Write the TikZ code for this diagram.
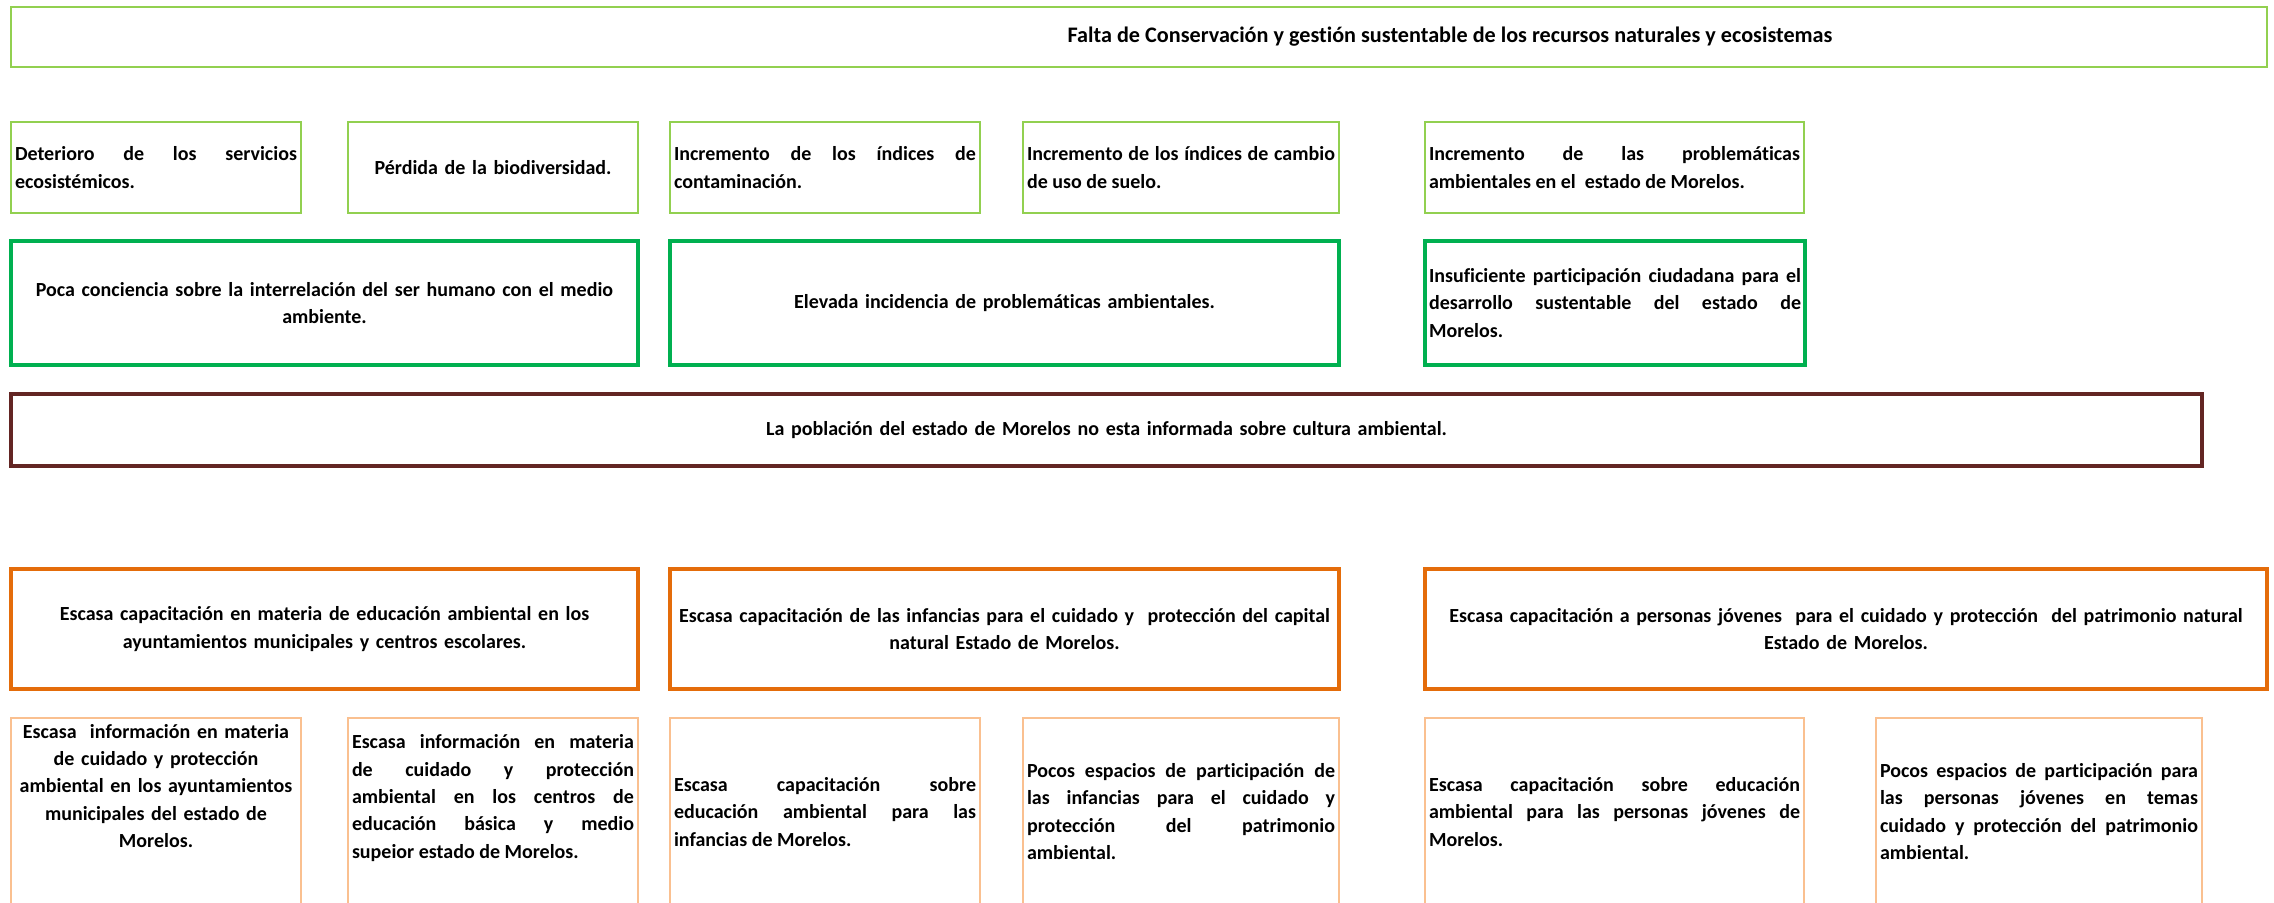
\documentclass[tikz,border=0pt]{standalone}
\usepackage{fontspec}
\setmainfont{Carlito}[Ligatures=NoCommon]
\definecolor{verdeclaro}{HTML}{92D050}
\definecolor{verde}{HTML}{00B050}
\definecolor{guinda}{HTML}{632523}
\definecolor{naranja}{HTML}{E46C0A}
\definecolor{durazno}{HTML}{FAC090}
\hyphenpenalty=10000
\exhyphenpenalty=10000
\tolerance=9999
\hbadness=10000

\begin{document}
\begin{tikzpicture}[
  x=0.55pt, y=-0.55pt,
  cell/.style={rectangle, draw, inner xsep=2.2pt, inner ysep=0pt, align=justify, font=\fontsize{11}{15}\selectfont\bfseries},
  fin/.style={cell, draw=verdeclaro, line width=1.1pt, minimum height=33pt},
  efind/.style={cell, draw=verdeclaro, line width=1.1pt, minimum height=50pt},
  efdir/.style={cell, draw=verde, line width=2.2pt, minimum height=68.5pt},
  problema/.style={cell, draw=guinda, line width=2.2pt, minimum height=39.6pt, align=center},
  causa/.style={cell, draw=naranja, line width=2.2pt, minimum height=66pt, align=center},
  subcausa/.style={cell, draw=durazno, line width=1.1pt, minimum height=110pt, anchor=north},
  texto/.style={cell, draw=none}
]
\useasboundingbox (0,0) rectangle (2274,902);

% fin
\node[fin, text width=1236.4pt] (falta) at (1139,37) {};
\node[texto, align=center, font=\fontsize{12.2}{15}\selectfont\bfseries] (faltatxt) at (1450,37) {Falta de Conservación y gestión sustentable de los recursos naturales y ecosistemas};

% efectos indirectos
\node[efind, text width=155.1pt] (deterioro) at (156,167.5) {Deterioro de los servicios\linebreak ecosistémicos.};
\node[efind, text width=155.1pt, align=center] (perdida) at (493,167.5) {Pérdida de la biodiversidad.};
\node[efind, text width=166.1pt] (contam) at (825,167.5) {Incremento de los índices de\linebreak contaminación.};
\node[efind, text width=169.4pt] (suelo) at (1181,167.5) {Incremento de los índices de cambio\linebreak de uso de suelo.};
\node[efind, text width=204.05pt] (probl) at (1614.5,167.5) {Incremento de las problemáticas\linebreak ambientales en el \ estado de Morelos.};

% efectos directos
\node[efdir, text width=340.45pt, align=center] (conciencia) at (324.5,303) {Poca conciencia sobre la interrelación del ser humano con el medio\\ambiente.};
\node[efdir, text width=363.55pt, align=center] (incidencia) at (1004.5,303) {Elevada incidencia de problemáticas ambientales.};
\node[efdir, text width=204.6pt] (particip) at (1615,303) {Insuficiente participación ciudadana para el\linebreak desarrollo sustentable del estado de\linebreak Morelos.};

% problema central
\node[problema, text width=1200.65pt] (poblacion) at (1106.5,430) {La población del estado de Morelos no esta informada sobre cultura ambiental.};

% causas
\node[causa, text width=340.45pt] (ayunt) at (324.5,629) {Escasa capacitación en materia de educación ambiental en los\\ayuntamientos municipales y centros escolares.};
\node[causa, text width=363.55pt] (infancias) at (1004.5,629) {Escasa capacitación de las infancias para el cuidado y \ protección del capital\\natural Estado de Morelos.};
\node[causa, text width=458.7pt] (jovenes) at (1846,629) {Escasa capacitación a personas jóvenes \ para el cuidado y protección \ del patrimonio natural\\Estado de Morelos.};

% subcausas
\begin{scope}
\clip (0,0) rectangle (2274,902);
\node[subcausa, text width=155.1pt] (sc1) at (156,717) {};
\node[subcausa, text width=155.1pt] (sc2) at (493,717) {};
\node[subcausa, text width=166.1pt] (sc3) at (825,717) {};
\node[subcausa, text width=169.4pt] (sc4) at (1181,717) {};
\node[subcausa, text width=204.05pt] (sc5) at (1614.5,717) {};
\node[subcausa, text width=174.9pt] (sc6) at (2039,717) {};
\end{scope}
\node[texto, text width=155.1pt, align=center] (sc1txt) at (156,786) {Escasa \ información en materia\\de cuidado y protección\\ambiental en los ayuntamientos\\municipales del estado de\\Morelos.};
\node[texto, text width=155.1pt] (sc2txt) at (493,798) {Escasa información en materia\linebreak de cuidado y protección\linebreak ambiental en los centros de\linebreak educación básica y medio\linebreak supeior estado de Morelos.};
\node[texto, text width=166.1pt] (sc3txt) at (825,812) {Escasa capacitación sobre\linebreak educación ambiental para las\linebreak infancias de Morelos.};
\node[texto, text width=169.4pt] (sc4txt) at (1181,811.5) {Pocos espacios de participación de\linebreak las infancias para el cuidado y\linebreak protección del patrimonio\linebreak ambiental.};
\node[texto, text width=204.05pt] (sc5txt) at (1614.5,812) {Escasa capacitación sobre educación\linebreak ambiental para las personas jóvenes de\linebreak Morelos.};
\node[texto, text width=174.9pt] (sc6txt) at (2039,811.5) {Pocos espacios de participación para\linebreak las personas jóvenes en temas\linebreak cuidado y protección del patrimonio\linebreak ambiental.};
\end{tikzpicture}
\end{document}
